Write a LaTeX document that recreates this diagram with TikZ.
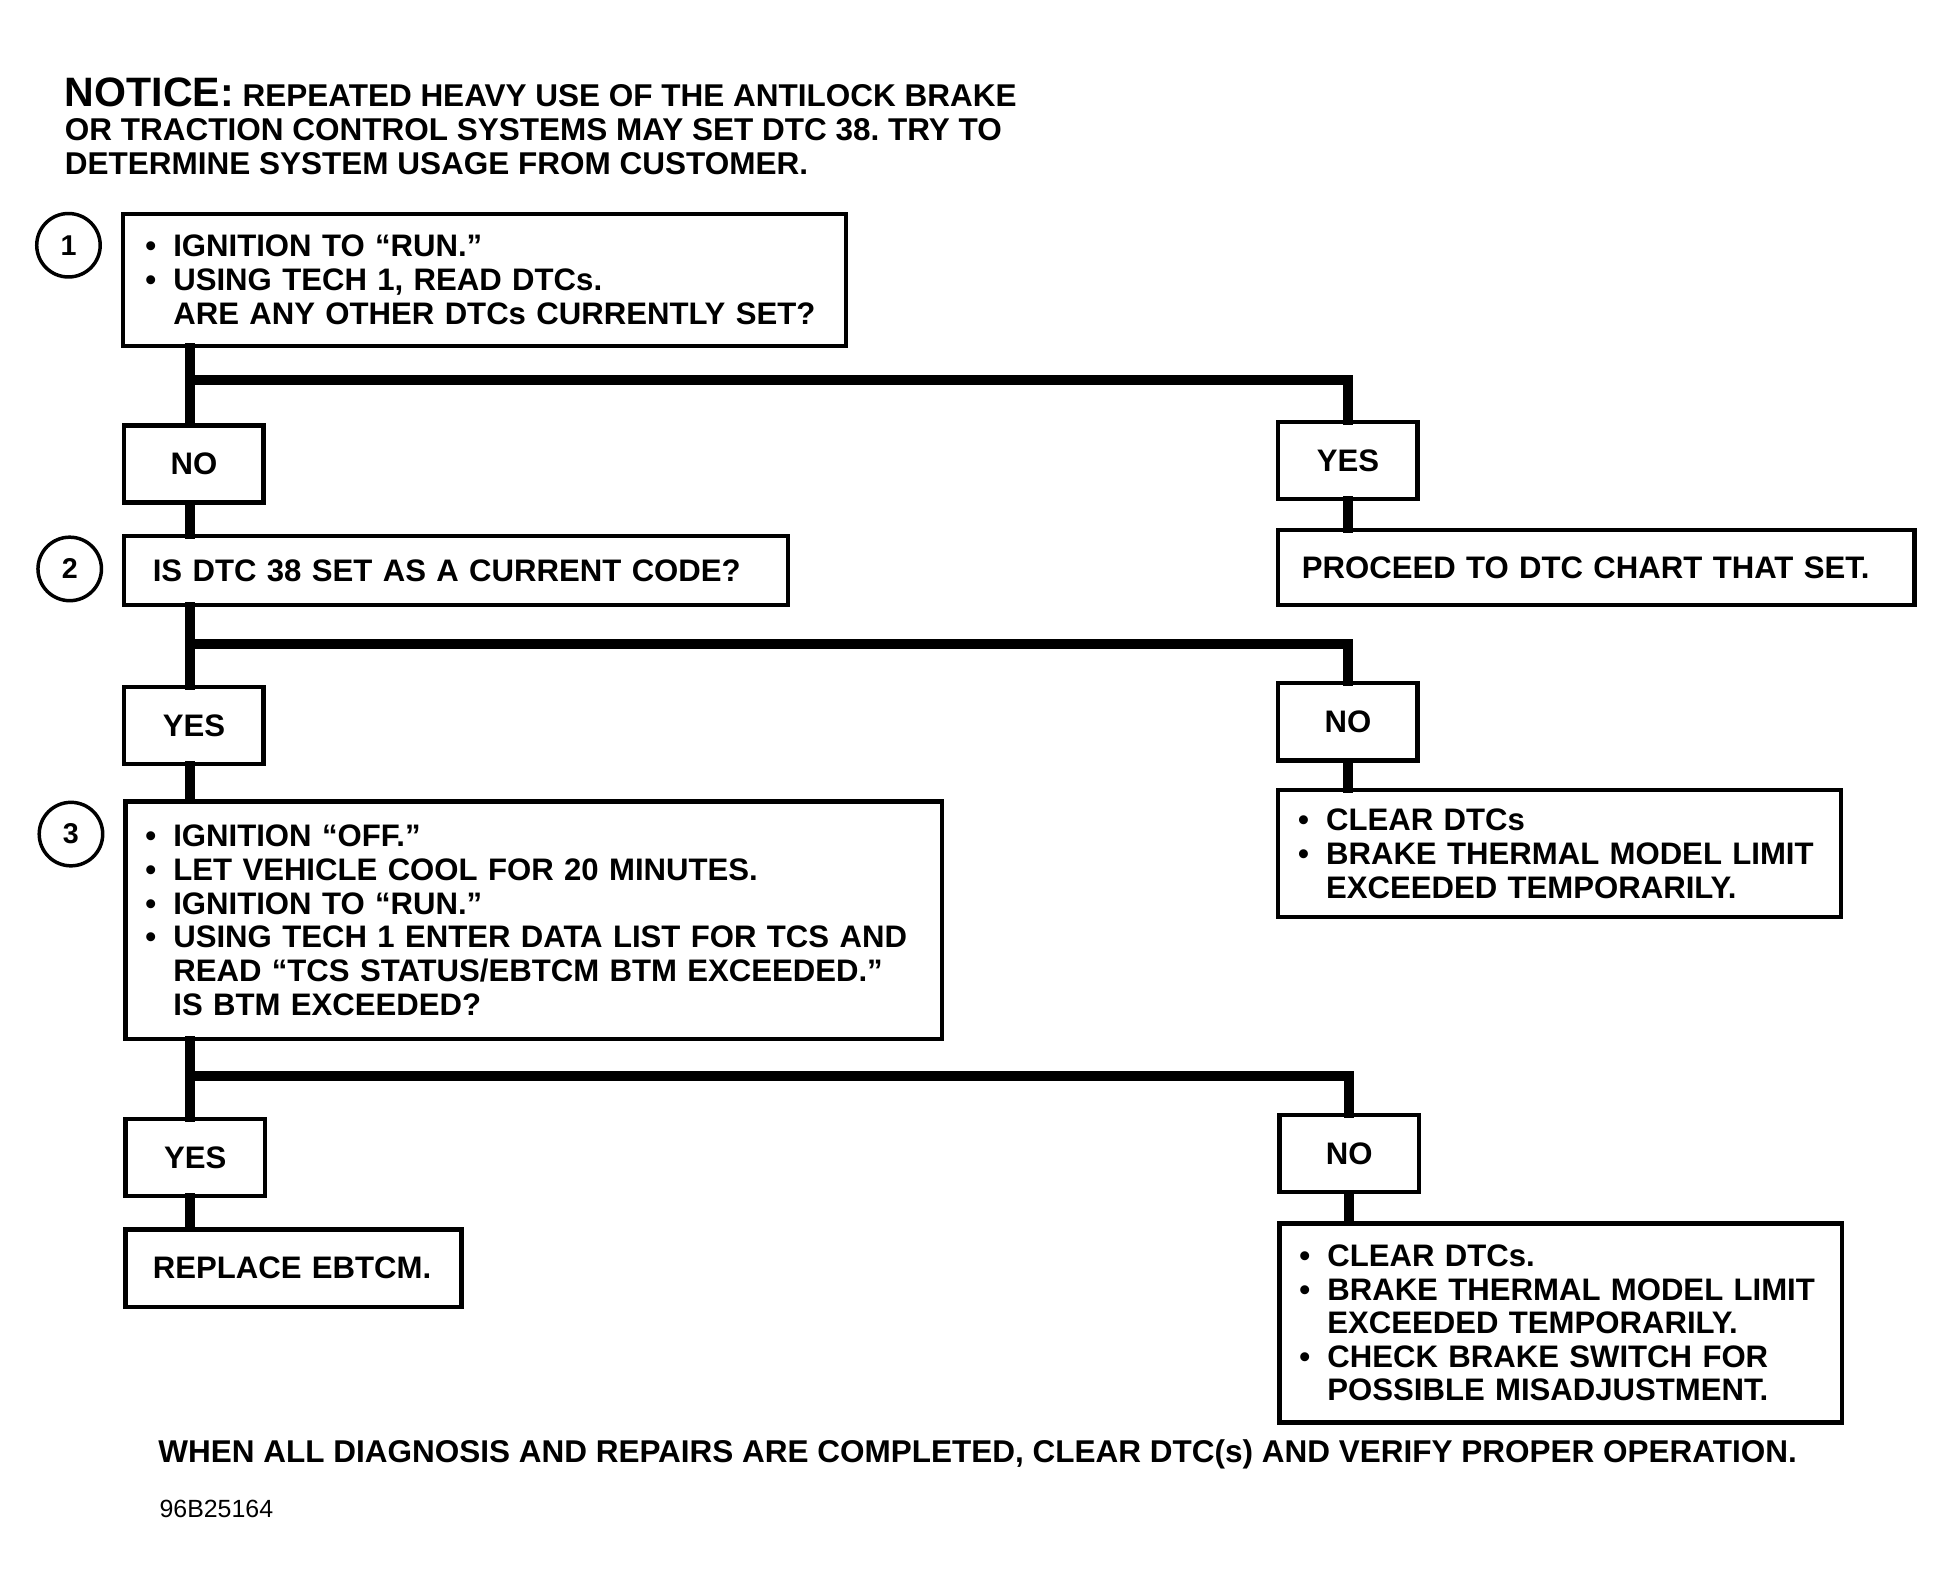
\documentclass[tikz,border=0pt]{standalone}
\usepackage{fontspec}
\setmainfont{Liberation Sans}
\frenchspacing
\newcommand\bul{\makebox[0.9em][l]{\textbullet}}
\newcommand\ind{\hspace*{0.9em}}
\newcommand\fs{\fontsize{25}{27}\selectfont\bfseries}
\tikzset{
  box/.style={draw, line width=3.5pt, inner ysep=0pt, anchor=north west, align=left, font=\fs},
  small/.style={draw, line width=3.5pt, inner sep=0pt, anchor=north west, align=center, font=\fs,
                minimum width=112pt, minimum height=62pt},
  conn/.style={line width=8pt, line cap=rect, line join=miter},
  num/.style={circle, draw, line width=2.8pt, minimum size=51pt, inner sep=0pt,
              font=\fontsize{23}{23}\selectfont\bfseries}
}
\begin{document}
\begin{tikzpicture}[x=1pt,y=-1pt]
\useasboundingbox (0,0) rectangle (1568,1280);

% notice
\node[anchor=north west, inner sep=0pt, align=left, font=\fontsize{25.3}{27.3}\selectfont\bfseries\frenchspacing] (notice) at (52,62)
  {{\fontsize{33}{27}\selectfont NOTICE:} REPEATED HEAVY USE OF THE ANTILOCK BRAKE\\
   OR TRACTION CONTROL SYSTEMS MAY SET DTC 38. TRY TO\\
   DETERMINE SYSTEM USAGE FROM CUSTOMER.};

% step numbers
\node[num] (n1) at (55,197) {1};
\node[num] (n2) at (56,457) {2};
\node[num] (n3) at (57,670) {3};

% main boxes
\node[box, minimum height=106pt, text width=545pt, inner xsep=18pt] (b1) at (97,170)
  {\bul IGNITION TO “RUN.”\\
   \bul USING TECH 1, READ DTCs.\\
   \ind ARE ANY OTHER DTCs CURRENTLY SET?};
\node[small] (no1) at (98,340) {NO};
\node[small] (yes1) at (1025,337) {YES};
\node[box, minimum height=60pt, text width=473pt, inner xsep=19pt] (proceed) at (1025,424)
  {PROCEED TO DTC CHART THAT SET.};

\node[box, minimum height=55pt, text width=487pt, inner xsep=23pt] (b2) at (98,429)
  {IS DTC 38 SET AS A CURRENT CODE?};
\node[small] (yes2) at (98,550) {YES};
\node[small] (no2) at (1025,547) {NO};
\node[box, minimum height=102pt, text width=420pt, inner xsep=16pt] (clear1) at (1025,633)
  {\bul CLEAR DTCs\\
   \bul BRAKE THERMAL MODEL LIMIT\\
   \ind EXCEEDED TEMPORARILY.};

\node[box, minimum height=191pt, text width=624pt, inner xsep=16pt] (b3) at (99,642)
  {\bul IGNITION “OFF.”\\
   \bul LET VEHICLE COOL FOR 20 MINUTES.\\
   \bul IGNITION TO “RUN.”\\
   \bul USING TECH 1 ENTER DATA LIST FOR TCS AND\\
   \ind READ “TCS STATUS/EBTCM BTM EXCEEDED.”\\
   \ind IS BTM EXCEEDED?};
\node[small] (yes3) at (99,897) {YES};
\node[small] (no3) at (1026,894) {NO};
\node[box, minimum height=62pt, text width=226pt, inner xsep=22pt] (replace) at (99,986)
  {REPLACE EBTCM.};
\node[box, minimum height=160pt, text width=420pt, inner xsep=16pt] (clear2) at (1026,981)
  {\bul CLEAR DTCs.\\
   \bul BRAKE THERMAL MODEL LIMIT\\
   \ind EXCEEDED TEMPORARILY.\\
   \bul CHECK BRAKE SWITCH FOR\\
   \ind POSSIBLE MISADJUSTMENT.};

% footer
\node[anchor=west, inner sep=0pt, font=\fontsize{25.3}{27}\selectfont\bfseries] (footer) at (127,1168)
  {WHEN ALL DIAGNOSIS AND REPAIRS ARE COMPLETED, CLEAR DTC(s) AND VERIFY PROPER OPERATION.};
\node[anchor=west, inner sep=0pt, font=\fontsize{20}{20}\selectfont] (code) at (128,1212) {96B25164};

% junctions
\coordinate (j1) at (153,305);
\coordinate (j2) at (153,517);
\coordinate (j3) at (153,864);

% connectors
\draw[conn] (b1.south -| j1) -- (no1.north -| j1);
\draw[conn] (j1) -| (yes1.north);
\draw[conn] (no1.south -| j1) -- (b2.north -| j1);
\draw[conn] (yes1.south) -- (yes1.south |- proceed.north);

\draw[conn] (b2.south -| j2) -- (yes2.north -| j2);
\draw[conn] (j2) -| (no2.north);
\draw[conn] (yes2.south -| j2) -- (b3.north -| j2);
\draw[conn] (no2.south) -- (no2.south |- clear1.north);

\draw[conn] (b3.south -| j3) -- (yes3.north -| j3);
\draw[conn] (j3) -| (no3.north);
\draw[conn] (yes3.south -| j3) -- (replace.north -| j3);
\draw[conn] (no3.south) -- (no3.south |- clear2.north);
\end{tikzpicture}
\end{document}
